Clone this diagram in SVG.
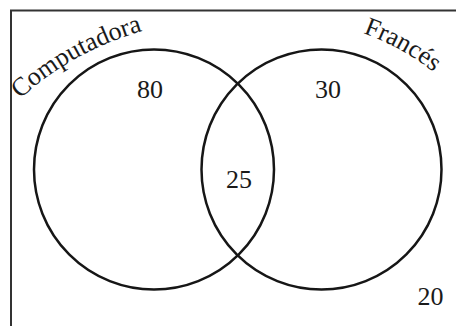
<svg xmlns="http://www.w3.org/2000/svg" xmlns:xlink="http://www.w3.org/1999/xlink" width="456" height="326" viewBox="0 0 456 326">
  <style>
    .set { fill: none; stroke: #161616; stroke-width: 2.5; }
    .frame { fill: none; stroke: #333; stroke-width: 2; }
    .t { font-family: "Liberation Serif", serif; font-size: 26px; fill: #1a1a1a; }
    .n { text-anchor: middle; }
  </style>
  <defs>
    <path id="arcC" d="M20,99 Q74,49 153,28"/>
    <path id="arcF" d="M363,33 Q410,50 445,82"/>
  </defs>
  <rect width="456" height="326" fill="#fff"/>
  <path class="frame" d="M11,330 V10.5 H460"/>
  <g id="computadora">
    <circle class="set" cx="154" cy="169.5" r="120"/>
    <text class="t"><textPath xlink:href="#arcC" href="#arcC">Computadora</textPath></text>
    <text class="t n" x="150" y="98">80</text>
  </g>
  <g id="frances">
    <circle class="set" cx="321.5" cy="169.5" r="120"/>
    <text class="t"><textPath xlink:href="#arcF" href="#arcF">Francés</textPath></text>
    <text class="t n" x="328" y="98">30</text>
  </g>
  <g id="interseccion">
    <text class="t n" x="239" y="188">25</text>
  </g>
  <g id="universo">
    <text class="t n" x="430.5" y="305">20</text>
  </g>
  <g id="connectors"/>
</svg>
